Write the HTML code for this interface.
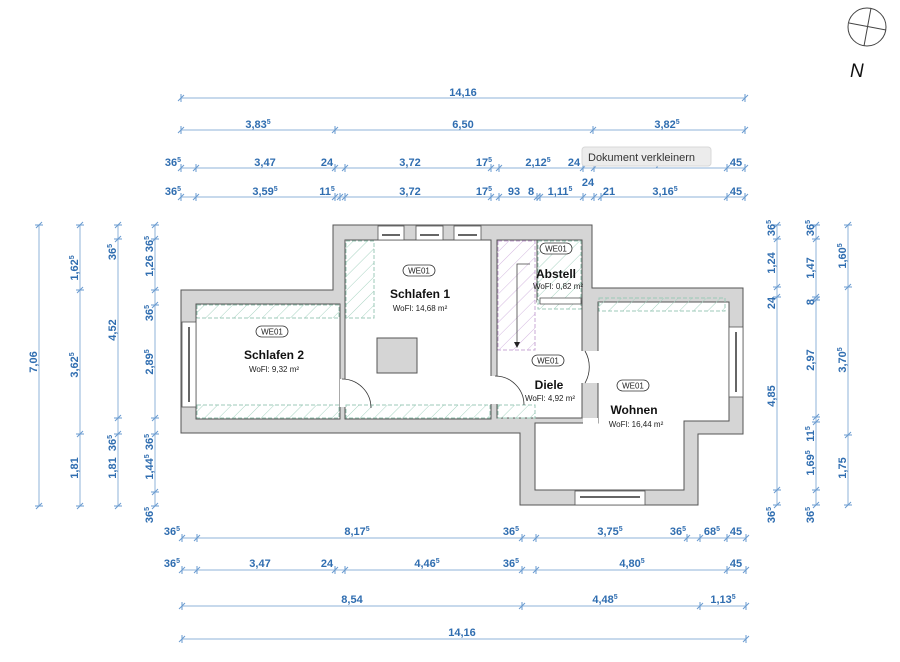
<!DOCTYPE html>
<html><head><meta charset="utf-8"><style>
html,body{margin:0;padding:0;background:#fff;}
svg{display:block;}
.d{stroke:#8fb3da;stroke-width:1;fill:none}
.t{stroke:#6a9bd0;stroke-width:1}
.l{font-family:"Liberation Sans",sans-serif;font-weight:bold;font-size:11px;fill:#2f6db0}
.s{font-size:7px}
.w{fill:#d5d5d5;stroke:#555;stroke-width:1}
.r{fill:#fff;stroke:#555;stroke-width:1}
.h{fill:url(#hg);stroke:#9cc9b8;stroke-width:1;stroke-dasharray:4 2}
.hp{fill:url(#hp);stroke:#c9a8d6;stroke-width:1;stroke-dasharray:4 2}
.nm{font-family:"Liberation Sans",sans-serif;font-weight:bold;font-size:12px;fill:#111}
.wf{font-family:"Liberation Sans",sans-serif;font-size:8px;fill:#222}
.pl{font-family:"Liberation Sans",sans-serif;font-size:8px;fill:#222}
</style></head><body>
<svg width="900" height="662" viewBox="0 0 900 662" xmlns="http://www.w3.org/2000/svg">
<defs>
<pattern id="hg" width="10" height="10" patternUnits="userSpaceOnUse" patternTransform="rotate(45)"><line x1="0" y1="0" x2="0" y2="10" stroke="#a8d4c2" stroke-width="1"/></pattern>
<pattern id="hp" width="10" height="10" patternUnits="userSpaceOnUse" patternTransform="rotate(45)"><line x1="0" y1="0" x2="0" y2="10" stroke="#d4b8e0" stroke-width="1"/></pattern>
<g id="tk"><line x1="0" y1="-4" x2="0" y2="4" class="t"/><line x1="-3" y1="3" x2="3" y2="-3" class="t"/></g>
<g id="tv"><line x1="-4" y1="0" x2="4" y2="0" class="t"/><line x1="-3" y1="3" x2="3" y2="-3" class="t"/></g>
</defs>

<!-- compass -->
<circle cx="867" cy="27" r="19" fill="none" stroke="#444" stroke-width="1"/>
<line x1="849" y1="23" x2="886" y2="30" stroke="#444"/>
<line x1="871" y1="8" x2="864" y2="46" stroke="#444"/>
<text x="850" y="77" font-family="Liberation Sans,sans-serif" font-style="italic" font-size="19" fill="#111">N</text>

<!-- building -->
<polygon class="w" points="181,290 333,290 333,225 592,225 592,288 743,288 743,434 698,434 698,505 520,505 520,433 181,433"/>
<rect class="r" x="196" y="304" width="144" height="115"/>
<rect class="r" x="345" y="240" width="146" height="179"/>
<polygon class="r" points="497,240 582,240 582,418 497,418"/>
<rect class="r" x="537" y="240" width="45" height="62"/>
<polygon class="r" points="598,302 729,302 729,421 684,421 684,490 535,490 535,423 598,423"/>
<!-- openings in walls -->
<rect x="340" y="379" width="6" height="28" fill="#fff"/>
<rect x="490" y="376" width="8" height="28" fill="#fff"/>
<rect x="581" y="351" width="18" height="32" fill="#fff"/>
<rect x="537" y="300" width="44" height="4" fill="#fff"/>
<rect x="583" y="418" width="15" height="6" fill="#fff"/>
<!-- hatches -->
<rect class="h" x="197" y="305" width="142" height="13"/>
<rect class="h" x="197" y="405" width="142" height="13"/>
<rect class="h" x="346" y="241" width="28" height="77"/>
<rect class="h" x="346" y="405" width="144" height="13"/>
<rect class="h" x="498" y="405" width="37" height="13"/>
<rect class="h" x="599" y="298" width="126" height="13"/>
<rect class="h" x="538" y="241" width="43" height="60"/>
<rect class="h" x="538" y="303" width="43" height="6"/>
<rect class="hp" x="498" y="241" width="37" height="109"/>
<polyline points="530,264 517,264 517,343" fill="none" stroke="#444" stroke-width="0.8"/>
<polygon points="514,342 520,342 517,348" fill="#222"/>
<!-- chimney -->
<rect x="377" y="338" width="40" height="35" fill="#d5d5d5" stroke="#555"/>
<!-- windows -->
<g fill="#fff" stroke="#555" stroke-width="0.8">
<rect x="378" y="226" width="26" height="14"/><rect x="416" y="226" width="27" height="14"/><rect x="454" y="226" width="27" height="14"/>
<rect x="182" y="322" width="14" height="85"/><rect x="729" y="327" width="14" height="70"/>
<rect x="575" y="491" width="70" height="14"/><rect x="540" y="298" width="41" height="6"/>
</g>
<g stroke="#333" stroke-width="1.5">
<line x1="382" y1="235" x2="400" y2="235"/><line x1="420" y1="235" x2="439" y2="235"/><line x1="458" y1="235" x2="477" y2="235"/>
<line x1="189" y1="327" x2="189" y2="402"/><line x1="736" y1="332" x2="736" y2="392"/><line x1="580" y1="497" x2="640" y2="497"/>
</g>
<!-- doors -->
<g fill="none" stroke="#333" stroke-width="0.8">
<path d="M342,379 A29,29 0 0 1 371,408"/>
<path d="M495,376 A29,29 0 0 1 524,405"/>
<path d="M585,351 A32,32 0 0 1 585,383"/>
</g>
<!-- labels -->
<g>
<rect x="256" y="326" width="32" height="11" rx="5.5" fill="#fff" stroke="#333" stroke-width="0.8"/><text class="pl" x="272" y="334.5" text-anchor="middle">WE01</text>
<rect x="403" y="265" width="32" height="11" rx="5.5" fill="#fff" stroke="#333" stroke-width="0.8"/><text class="pl" x="419" y="273.5" text-anchor="middle">WE01</text>
<rect x="540" y="243" width="32" height="11" rx="5.5" fill="#fff" stroke="#333" stroke-width="0.8"/><text class="pl" x="556" y="251.5" text-anchor="middle">WE01</text>
<rect x="532" y="355" width="32" height="11" rx="5.5" fill="#fff" stroke="#333" stroke-width="0.8"/><text class="pl" x="548" y="363.5" text-anchor="middle">WE01</text>
<rect x="617" y="380" width="32" height="11" rx="5.5" fill="#fff" stroke="#333" stroke-width="0.8"/><text class="pl" x="633" y="388.5" text-anchor="middle">WE01</text>
</g>
<text class="nm" x="274" y="359" text-anchor="middle">Schlafen 2</text><text class="wf" x="274" y="372" text-anchor="middle">WoFl: 9,32 m²</text>
<text class="nm" x="420" y="298" text-anchor="middle">Schlafen 1</text><text class="wf" x="420" y="311" text-anchor="middle">WoFl: 14,68 m²</text>
<text class="nm" x="556" y="278" text-anchor="middle">Abstell</text><text class="wf" x="558" y="289" text-anchor="middle">WoFl: 0,82 m²</text>
<text class="nm" x="549" y="389" text-anchor="middle">Diele</text><text class="wf" x="550" y="401" text-anchor="middle">WoFl: 4,92 m²</text>
<text class="nm" x="634" y="414" text-anchor="middle">Wohnen</text><text class="wf" x="636" y="427" text-anchor="middle">WoFl: 16,44 m²</text>

<!-- TOP DIMENSIONS -->
<line class="d" x1="181" y1="98" x2="745" y2="98"/>
<use href="#tk" x="181" y="98"/><use href="#tk" x="745" y="98"/>
<text class="l" x="463" y="96" text-anchor="middle">14,16</text>

<line class="d" x1="181" y1="130" x2="745" y2="130"/>
<use href="#tk" x="181" y="130"/><use href="#tk" x="335" y="130"/><use href="#tk" x="593" y="130"/><use href="#tk" x="745" y="130"/>
<text class="l" x="258" y="128" text-anchor="middle">3,83<tspan class="s" dy="-4">5</tspan></text>
<text class="l" x="463" y="128" text-anchor="middle">6,50</text>
<text class="l" x="667" y="128" text-anchor="middle">3,82<tspan class="s" dy="-4">5</tspan></text>

<line class="d" x1="181" y1="168" x2="745" y2="168"/>
<use href="#tk" x="181" y="168"/><use href="#tk" x="196" y="168"/><use href="#tk" x="335" y="168"/><use href="#tk" x="345" y="168"/><use href="#tk" x="491" y="168"/><use href="#tk" x="499" y="168"/><use href="#tk" x="583" y="168"/><use href="#tk" x="594" y="168"/><use href="#tk" x="727" y="168"/><use href="#tk" x="745" y="168"/>
<text class="l" x="173" y="166" text-anchor="middle">36<tspan class="s" dy="-4">5</tspan></text>
<text class="l" x="265" y="166" text-anchor="middle">3,47</text>
<text class="l" x="327" y="166" text-anchor="middle">24</text>
<text class="l" x="410" y="166" text-anchor="middle">3,72</text>
<text class="l" x="484" y="166" text-anchor="middle">17<tspan class="s" dy="-4">5</tspan></text>
<text class="l" x="538" y="166" text-anchor="middle">2,12<tspan class="s" dy="-4">5</tspan></text>
<text class="l" x="574" y="166" text-anchor="middle">24</text>
<text class="l" x="660" y="166" text-anchor="middle">3,37</text>
<text class="l" x="736" y="166" text-anchor="middle">45</text>

<line class="d" x1="181" y1="197" x2="745" y2="197"/>
<use href="#tk" x="181" y="197"/><use href="#tk" x="196" y="197"/><use href="#tk" x="335" y="197"/><use href="#tk" x="340" y="197"/><use href="#tk" x="345" y="197"/><use href="#tk" x="491" y="197"/><use href="#tk" x="499" y="197"/><use href="#tk" x="537" y="197"/><use href="#tk" x="540" y="197"/><use href="#tk" x="583" y="197"/><use href="#tk" x="594" y="197"/><use href="#tk" x="601" y="197"/><use href="#tk" x="727" y="197"/><use href="#tk" x="745" y="197"/>
<text class="l" x="173" y="195" text-anchor="middle">36<tspan class="s" dy="-4">5</tspan></text>
<text class="l" x="265" y="195" text-anchor="middle">3,59<tspan class="s" dy="-4">5</tspan></text>
<text class="l" x="327" y="195" text-anchor="middle">11<tspan class="s" dy="-4">5</tspan></text>
<text class="l" x="410" y="195" text-anchor="middle">3,72</text>
<text class="l" x="484" y="195" text-anchor="middle">17<tspan class="s" dy="-4">5</tspan></text>
<text class="l" x="514" y="195" text-anchor="middle">93</text>
<text class="l" x="531" y="195" text-anchor="middle">8</text>
<text class="l" x="560" y="195" text-anchor="middle">1,11<tspan class="s" dy="-4">5</tspan></text>
<text class="l" x="588" y="186" text-anchor="middle">24</text>
<text class="l" x="609" y="195" text-anchor="middle">21</text>
<text class="l" x="665" y="195" text-anchor="middle">3,16<tspan class="s" dy="-4">5</tspan></text>
<text class="l" x="736" y="195" text-anchor="middle">45</text>

<!-- tooltip -->
<rect x="582" y="147" width="129" height="19" rx="3" fill="#ececec" stroke="#d8d8d8"/>
<text x="588" y="161" font-family="Liberation Sans,sans-serif" font-size="11" fill="#333">Dokument verkleinern</text>

<!-- BOTTOM DIMENSIONS -->
<line class="d" x1="182" y1="538" x2="746" y2="538"/>
<use href="#tk" x="182" y="538"/><use href="#tk" x="197" y="538"/><use href="#tk" x="522" y="538"/><use href="#tk" x="536" y="538"/><use href="#tk" x="687" y="538"/><use href="#tk" x="700" y="538"/><use href="#tk" x="727" y="538"/><use href="#tk" x="746" y="538"/>
<text class="l" x="172" y="535" text-anchor="middle">36<tspan class="s" dy="-4">5</tspan></text>
<text class="l" x="357" y="535" text-anchor="middle">8,17<tspan class="s" dy="-4">5</tspan></text>
<text class="l" x="511" y="535" text-anchor="middle">36<tspan class="s" dy="-4">5</tspan></text>
<text class="l" x="610" y="535" text-anchor="middle">3,75<tspan class="s" dy="-4">5</tspan></text>
<text class="l" x="678" y="535" text-anchor="middle">36<tspan class="s" dy="-4">5</tspan></text>
<text class="l" x="712" y="535" text-anchor="middle">68<tspan class="s" dy="-4">5</tspan></text>
<text class="l" x="736" y="535" text-anchor="middle">45</text>

<line class="d" x1="182" y1="570" x2="746" y2="570"/>
<use href="#tk" x="182" y="570"/><use href="#tk" x="197" y="570"/><use href="#tk" x="335" y="570"/><use href="#tk" x="345" y="570"/><use href="#tk" x="522" y="570"/><use href="#tk" x="536" y="570"/><use href="#tk" x="727" y="570"/><use href="#tk" x="746" y="570"/>
<text class="l" x="172" y="567" text-anchor="middle">36<tspan class="s" dy="-4">5</tspan></text>
<text class="l" x="260" y="567" text-anchor="middle">3,47</text>
<text class="l" x="327" y="567" text-anchor="middle">24</text>
<text class="l" x="427" y="567" text-anchor="middle">4,46<tspan class="s" dy="-4">5</tspan></text>
<text class="l" x="511" y="567" text-anchor="middle">36<tspan class="s" dy="-4">5</tspan></text>
<text class="l" x="632" y="567" text-anchor="middle">4,80<tspan class="s" dy="-4">5</tspan></text>
<text class="l" x="736" y="567" text-anchor="middle">45</text>

<line class="d" x1="182" y1="606" x2="746" y2="606"/>
<use href="#tk" x="182" y="606"/><use href="#tk" x="522" y="606"/><use href="#tk" x="700" y="606"/><use href="#tk" x="746" y="606"/>
<text class="l" x="352" y="603" text-anchor="middle">8,54</text>
<text class="l" x="605" y="603" text-anchor="middle">4,48<tspan class="s" dy="-4">5</tspan></text>
<text class="l" x="723" y="603" text-anchor="middle">1,13<tspan class="s" dy="-4">5</tspan></text>

<line class="d" x1="182" y1="639" x2="746" y2="639"/>
<use href="#tk" x="182" y="639"/><use href="#tk" x="746" y="639"/>
<text class="l" x="462" y="636" text-anchor="middle">14,16</text>

<!-- LEFT DIMENSIONS -->
<line class="d" x1="39" y1="225" x2="39" y2="506"/>
<use href="#tv" x="39" y="225"/><use href="#tv" x="39" y="506"/>
<text class="l" transform="translate(37,362) rotate(-90)" text-anchor="middle">7,06</text>

<line class="d" x1="80" y1="225" x2="80" y2="506"/>
<use href="#tv" x="80" y="225"/><use href="#tv" x="80" y="290"/><use href="#tv" x="80" y="434"/><use href="#tv" x="80" y="506"/>
<text class="l" transform="translate(78,268) rotate(-90)" text-anchor="middle">1,62<tspan class="s" dy="-4">5</tspan></text>
<text class="l" transform="translate(78,365) rotate(-90)" text-anchor="middle">3,62<tspan class="s" dy="-4">5</tspan></text>
<text class="l" transform="translate(78,468) rotate(-90)" text-anchor="middle">1,81</text>

<line class="d" x1="118" y1="225" x2="118" y2="506"/>
<use href="#tv" x="118" y="225"/><use href="#tv" x="118" y="239"/><use href="#tv" x="118" y="418"/><use href="#tv" x="118" y="434"/><use href="#tv" x="118" y="506"/>
<text class="l" transform="translate(116,252) rotate(-90)" text-anchor="middle">36<tspan class="s" dy="-4">5</tspan></text>
<text class="l" transform="translate(116,330) rotate(-90)" text-anchor="middle">4,52</text>
<text class="l" transform="translate(116,443) rotate(-90)" text-anchor="middle">36<tspan class="s" dy="-4">5</tspan></text>
<text class="l" transform="translate(116,468) rotate(-90)" text-anchor="middle">1,81</text>

<line class="d" x1="155" y1="225" x2="155" y2="506"/>
<use href="#tv" x="155" y="225"/><use href="#tv" x="155" y="239"/><use href="#tv" x="155" y="290"/><use href="#tv" x="155" y="305"/><use href="#tv" x="155" y="418"/><use href="#tv" x="155" y="434"/><use href="#tv" x="155" y="492"/><use href="#tv" x="155" y="506"/>
<text class="l" transform="translate(153,244) rotate(-90)" text-anchor="middle">36<tspan class="s" dy="-4">5</tspan></text>
<text class="l" transform="translate(153,266) rotate(-90)" text-anchor="middle">1,26</text>
<text class="l" transform="translate(153,313) rotate(-90)" text-anchor="middle">36<tspan class="s" dy="-4">5</tspan></text>
<text class="l" transform="translate(153,362) rotate(-90)" text-anchor="middle">2,89<tspan class="s" dy="-4">5</tspan></text>
<text class="l" transform="translate(153,442) rotate(-90)" text-anchor="middle">36<tspan class="s" dy="-4">5</tspan></text>
<text class="l" transform="translate(153,467) rotate(-90)" text-anchor="middle">1,44<tspan class="s" dy="-4">5</tspan></text>
<text class="l" transform="translate(153,515) rotate(-90)" text-anchor="middle">36<tspan class="s" dy="-4">5</tspan></text>

<!-- RIGHT DIMENSIONS -->
<line class="d" x1="777" y1="225" x2="777" y2="505"/>
<use href="#tv" x="777" y="225"/><use href="#tv" x="777" y="239"/><use href="#tv" x="777" y="287"/><use href="#tv" x="777" y="297"/><use href="#tv" x="777" y="490"/><use href="#tv" x="777" y="505"/>
<text class="l" transform="translate(775,228) rotate(-90)" text-anchor="middle">36<tspan class="s" dy="-4">5</tspan></text>
<text class="l" transform="translate(775,263) rotate(-90)" text-anchor="middle">1,24</text>
<text class="l" transform="translate(775,303) rotate(-90)" text-anchor="middle">24</text>
<text class="l" transform="translate(775,396) rotate(-90)" text-anchor="middle">4,85</text>
<text class="l" transform="translate(775,515) rotate(-90)" text-anchor="middle">36<tspan class="s" dy="-4">5</tspan></text>

<line class="d" x1="816" y1="225" x2="816" y2="505"/>
<use href="#tv" x="816" y="225"/><use href="#tv" x="816" y="239"/><use href="#tv" x="816" y="297"/><use href="#tv" x="816" y="300"/><use href="#tv" x="816" y="417"/><use href="#tv" x="816" y="422"/><use href="#tv" x="816" y="490"/><use href="#tv" x="816" y="505"/>
<text class="l" transform="translate(814,228) rotate(-90)" text-anchor="middle">36<tspan class="s" dy="-4">5</tspan></text>
<text class="l" transform="translate(814,268) rotate(-90)" text-anchor="middle">1,47</text>
<text class="l" transform="translate(814,302) rotate(-90)" text-anchor="middle">8</text>
<text class="l" transform="translate(814,360) rotate(-90)" text-anchor="middle">2,97</text>
<text class="l" transform="translate(814,434) rotate(-90)" text-anchor="middle">11<tspan class="s" dy="-4">5</tspan></text>
<text class="l" transform="translate(814,463) rotate(-90)" text-anchor="middle">1,69<tspan class="s" dy="-4">5</tspan></text>
<text class="l" transform="translate(814,515) rotate(-90)" text-anchor="middle">36<tspan class="s" dy="-4">5</tspan></text>

<line class="d" x1="848" y1="225" x2="848" y2="505"/>
<use href="#tv" x="848" y="225"/><use href="#tv" x="848" y="287"/><use href="#tv" x="848" y="435"/><use href="#tv" x="848" y="505"/>
<text class="l" transform="translate(846,256) rotate(-90)" text-anchor="middle">1,60<tspan class="s" dy="-4">5</tspan></text>
<text class="l" transform="translate(846,360) rotate(-90)" text-anchor="middle">3,70<tspan class="s" dy="-4">5</tspan></text>
<text class="l" transform="translate(846,468) rotate(-90)" text-anchor="middle">1,75</text>
</svg>
</body></html>
